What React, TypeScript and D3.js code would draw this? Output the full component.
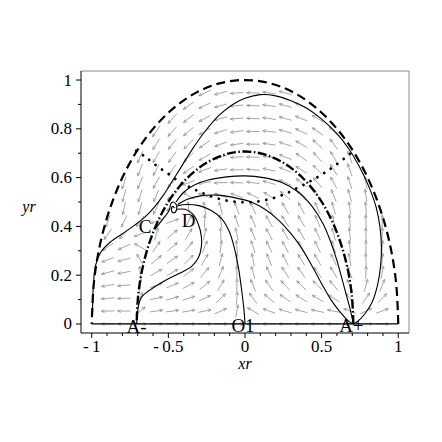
import React from 'react';
import * as d3 from 'd3';

// grid of the direction field (Maple style 20 x 20 over [-1,1] x [0,1])
const xGrid = [-1, -0.895, -0.789, -0.684, -0.579, -0.474, -0.368, -0.263, -0.158, -0.053, 0.053, 0.158, 0.263, 0.368, 0.474, 0.579, 0.684, 0.789, 0.895, 1];
const yGrid = [0, 0.053, 0.105, 0.158, 0.211, 0.263, 0.316, 0.368, 0.421, 0.474, 0.526, 0.579, 0.632, 0.684, 0.737, 0.789, 0.842, 0.895, 0.947];

const _ = null;
// arrow directions in degrees (0 = right, 90 = up), one row per yGrid value
const fieldAngles = [
    [_, 180, 180, 0, 0, 0, 0, 0, 0, 0, 180, 180, 180, 180, 180, 180, 180, 0, 0, _],
    [_, 182, 180, 40, 8, 8, 10, 12, 25, 80, 150, 160, 163, 165, 168, 168, 160, 25, 20, _],
    [_, 185, 182, 70, 12, 15, 18, 25, 45, 85, 125, 140, 145, 148, 150, 148, 130, 55, 45, _],
    [_, 190, 185, 85, 20, 22, 28, 40, 60, 88, 112, 125, 132, 135, 135, 130, 115, 75, 68, _],
    [_, 195, 190, 95, 30, 30, 38, 50, 68, 90, 105, 115, 122, 125, 125, 120, 110, 88, 80, _],
    [_, 200, 195, 120, 40, 35, 45, 60, 75, 90, 102, 112, 117, 120, 120, 115, 100, 92, 85, _],
    [_, 215, 205, 150, 55, 40, 52, 68, 82, 95, 108, 115, 118, 118, 115, 106, 96, 90, 85, _],
    [_, 235, 225, 200, 75, 40, 60, 78, 92, 102, 112, 118, 120, 120, 115, 105, 96, 92, 88, _],
    [_, 250, 245, 235, 200, 20, 65, 88, 100, 108, 115, 120, 122, 120, 113, 103, 95, 92, 90, _],
    [_, _, 258, 255, 245, 200, 95, 100, 105, 110, 115, 118, 120, 118, 113, 105, 98, 94, _, _],
    [_, _, 255, 252, 248, 220, 150, 160, 162, 160, 155, 148, 140, 132, 122, 112, 105, 98, _, _],
    [_, _, 252, 248, 242, 225, 200, 188, 182, 178, 172, 165, 155, 142, 130, 118, 108, 100, _, _],
    [_, _, _, 248, 242, 235, 215, 200, 188, 180, 175, 168, 158, 148, 135, 122, 110, _, _, _],
    [_, _, _, 245, 240, 235, 225, 210, 195, 183, 178, 170, 158, 145, 132, 120, 110, _, _, _],
    [_, _, _, _, 238, 232, 225, 215, 200, 188, 180, 172, 162, 150, 138, 125, _, _, _, _],
    [_, _, _, _, 235, 228, 220, 210, 198, 188, 180, 173, 165, 155, 145, 135, _, _, _, _],
    [_, _, _, _, _, 228, 218, 208, 195, 185, 178, 172, 165, 158, 150, _, _, _, _, _],
    [_, _, _, _, _, _, 215, 205, 195, 185, 178, 172, 165, 158, _, _, _, _, _, _],
    [_, _, _, _, _, _, _, 205, 195, 185, 178, 172, 165, _, _, _, _, _, _, _],
];

// boundary x^2+y^2=1 (dashed)
const outerCircle = [[1, 0], [0.985, 0.174], [0.94, 0.342], [0.866, 0.5], [0.766, 0.643], [0.643, 0.766], [0.5, 0.866], [0.342, 0.94], [0.174, 0.985], [0, 1], [-0.174, 0.985], [-0.342, 0.94], [-0.5, 0.866], [-0.643, 0.766], [-0.766, 0.643], [-0.866, 0.5], [-0.94, 0.342], [-0.985, 0.174], [-1, 0]];
// separatrix through A-, C, A+ (thick dash-dot)
const separatrix = [[0.707, 0], [0.696, 0.123], [0.664, 0.242], [0.612, 0.354], [0.542, 0.455], [0.455, 0.542], [0.354, 0.612], [0.242, 0.664], [0.123, 0.696], [0, 0.707], [-0.123, 0.696], [-0.242, 0.664], [-0.354, 0.612], [-0.455, 0.542], [-0.542, 0.455], [-0.612, 0.354], [-0.664, 0.242], [-0.696, 0.123], [-0.707, 0]];
// dotted locus
const dottedCurve = [[-0.71, 0.71], [-0.65, 0.685], [-0.58, 0.65], [-0.5, 0.615], [-0.42, 0.58], [-0.34, 0.555], [-0.25, 0.53], [-0.15, 0.51], [-0.05, 0.5], [0.05, 0.5], [0.15, 0.51], [0.25, 0.53], [0.35, 0.56], [0.44, 0.59], [0.52, 0.62], [0.6, 0.655], [0.7, 0.705]];

// solid trajectories
const outerTrajectory = [[-0.995, 0.04], [-0.99, 0.15], [-0.975, 0.24], [-0.94, 0.295], [-0.88, 0.335], [-0.8, 0.37], [-0.72, 0.405], [-0.65, 0.44], [-0.59, 0.48], [-0.53, 0.53], [-0.47, 0.59], [-0.41, 0.65], [-0.34, 0.72], [-0.26, 0.79], [-0.17, 0.855], [-0.08, 0.9], [0, 0.925], [0.1, 0.94], [0.2, 0.935], [0.3, 0.915], [0.4, 0.885], [0.5, 0.84], [0.6, 0.78], [0.68, 0.715], [0.75, 0.64], [0.81, 0.56], [0.855, 0.48], [0.88, 0.4], [0.89, 0.32], [0.885, 0.24], [0.865, 0.16], [0.83, 0.09], [0.78, 0.04], [0.73, 0.008], [0.707, 0]];
const innerArch = [[-0.45, 0.5], [-0.4, 0.54], [-0.33, 0.57], [-0.24, 0.59], [-0.12, 0.603], [0, 0.607], [0.12, 0.6], [0.24, 0.58], [0.35, 0.54], [0.44, 0.48], [0.51, 0.41], [0.56, 0.335], [0.6, 0.26], [0.635, 0.18], [0.665, 0.11], [0.69, 0.05], [0.707, 0]];
const sCurve = [[-0.44, 0.49], [-0.38, 0.51], [-0.29, 0.525], [-0.18, 0.528], [-0.07, 0.518], [0.04, 0.5], [0.13, 0.47], [0.22, 0.425], [0.3, 0.37], [0.37, 0.31], [0.44, 0.235], [0.5, 0.165], [0.56, 0.1], [0.62, 0.05], [0.67, 0.015], [0.707, 0]];
const toO1 = [[-0.44, 0.485], [-0.38, 0.49], [-0.3, 0.485], [-0.22, 0.465], [-0.15, 0.43], [-0.1, 0.375], [-0.065, 0.3], [-0.04, 0.22], [-0.02, 0.13], [-0.007, 0.06], [0, 0]];
const toAminus = [[-0.445, 0.47], [-0.39, 0.47], [-0.34, 0.45], [-0.305, 0.41], [-0.285, 0.36], [-0.285, 0.315], [-0.305, 0.27], [-0.35, 0.235], [-0.42, 0.21], [-0.5, 0.185], [-0.57, 0.16], [-0.63, 0.135], [-0.675, 0.11], [-0.695, 0.075], [-0.703, 0.035], [-0.707, 0]];
const cToD = [[-0.585, 0.39], [-0.56, 0.41], [-0.53, 0.435], [-0.505, 0.455], [-0.49, 0.475], [-0.485, 0.492], [-0.47, 0.5], [-0.452, 0.493], [-0.445, 0.475], [-0.455, 0.458], [-0.472, 0.457], [-0.48, 0.47], [-0.472, 0.482], [-0.462, 0.477]];
const axisLine = [[-1, 0], [1, 0]];

const pointNames = ['A-', 'O1', 'A+', 'C', 'D'];
const pointX = [-0.707, 0, 0.707, -0.6, -0.466];
const pointY = [0, 0, 0, 0.4, 0.475];

const xMajor = [-1, -0.5, 0, 0.5, 1];
const xMajorLabels = ['-\u20091', '-\u20090.5', '0', '0.5', '1'];
const xMinor = [-0.9, -0.8, -0.7, -0.6, -0.4, -0.3, -0.2, -0.1, 0.1, 0.2, 0.3, 0.4, 0.6, 0.7, 0.8, 0.9];
const yMajor = [0, 0.2, 0.4, 0.6, 0.8, 1];
const yMajorLabels = ['0', '0.2', '0.4', '0.6', '0.8', '1'];
const yMinor = [0.1, 0.3, 0.5, 0.7, 0.9];

const App = () => {
    const left = 81, right = 409, top = 71, bottom = 333;
    const x = d3.scaleLinear().domain([-1.07, 1.07]).range([left, right]);
    const y = d3.scaleLinear().domain([-0.037, 1.037]).range([bottom, top]);

    const line = d3.line<number[]>()
        .x(d => x(d[0]))
        .y(d => y(d[1]))
        .curve(d3.curveCatmullRom.alpha(0.5));

    const arrowLen = 13;
    const headLen = 3.5;
    const arrows: string[] = [];
    fieldAngles.forEach((row, j) => {
        row.forEach((a, i) => {
            if (a === null) return;
            const rad = a * Math.PI / 180;
            const cx = x(xGrid[i]);
            const cy = y(yGrid[j]);
            const dx = Math.cos(rad) * arrowLen / 2;
            const dy = -Math.sin(rad) * arrowLen / 2;
            const tx = cx + dx, ty = cy + dy;
            const b1 = rad + Math.PI - 0.42;
            const b2 = rad + Math.PI + 0.42;
            arrows.push(
                `M${cx - dx},${cy - dy}L${tx},${ty}` +
                `M${tx + Math.cos(b1) * headLen},${ty - Math.sin(b1) * headLen}L${tx},${ty}` +
                `L${tx + Math.cos(b2) * headLen},${ty - Math.sin(b2) * headLen}`
            );
        });
    });

    const serif = '"Liberation Serif", "Times New Roman", serif';
    const labelOffset: Record<string, [number, number]> = {
        'A-': [0, 9], 'O1': [-2, 8], 'A+': [-2, 8], 'C': [-8, 6.5], 'D': [15, 19]
    };

    return (
        <svg width={442} height={442} style={{position: 'absolute', left: 0, top: 0, background: '#fff'}}>
            <g className='field' stroke='#9c9c9c' strokeWidth={0.9} fill='none'>
                {arrows.map((d, k) => <path key={k} d={d}/>)}
            </g>

            <path d={line(axisLine) || ''} stroke='#000' strokeWidth={1.2} fill='none'/>
            <path d={line(outerCircle) || ''} stroke='#000' strokeWidth={2.2} strokeDasharray='9,5' fill='none'/>
            <path d={line(separatrix) || ''} stroke='#000' strokeWidth={2.4} strokeDasharray='9,2.5,1.5,2.5' fill='none'/>
            <path d={line(dottedCurve) || ''} stroke='#000' strokeWidth={2.8} strokeDasharray='0.01,8' strokeLinecap='round' fill='none'/>

            <g stroke='#000' strokeWidth={1.1} fill='none'>
                {[outerTrajectory, innerArch, sCurve, toO1, toAminus, cToD].map((c, k) =>
                    <path key={k} d={line(c) || ''}/>
                )}
            </g>

            {pointNames.map((name, k) => (
                <text key={name} x={x(pointX[k]) + labelOffset[name][0]} y={y(pointY[k]) + labelOffset[name][1]}
                      textAnchor='middle' fontFamily={serif} fontSize={19} fill='#000'>{name}</text>
            ))}

            {/* frame */}
            <line x1={left} x2={right} y1={top} y2={top} stroke='#8a8a8a' strokeWidth={1}/>
            <line x1={right} x2={right} y1={top} y2={bottom} stroke='#8a8a8a' strokeWidth={1}/>
            <line x1={left} x2={left} y1={top} y2={bottom} stroke='#000' strokeWidth={1}/>
            <line x1={left} x2={right} y1={bottom} y2={bottom} stroke='#000' strokeWidth={1}/>

            <g className='x-axis' fontFamily={serif} fontSize={17} fill='#000'>
                {xMajor.map(v => <line key={v} x1={x(v)} x2={x(v)} y1={bottom} y2={bottom + 5} stroke='#000'/>)}
                {xMinor.map(v => <line key={v} x1={x(v)} x2={x(v)} y1={bottom} y2={bottom + 3} stroke='#000'/>)}
                {xMajor.map((v, k) => <text key={v} x={x(v)} y={352} textAnchor='middle'>{xMajorLabels[k]}</text>)}
                <text x={x(0)} y={369} textAnchor='middle' fontStyle='italic' fontSize={16}>xr</text>
            </g>
            <g className='y-axis' fontFamily={serif} fontSize={17} fill='#000'>
                {yMajor.map(v => <line key={v} x1={left - 5} x2={left} y1={y(v)} y2={y(v)} stroke='#000'/>)}
                {yMinor.map(v => <line key={v} x1={left - 3} x2={left} y1={y(v)} y2={y(v)} stroke='#000'/>)}
                {yMajor.map((v, k) => <text key={v} x={72} y={y(v) + 5.5} textAnchor='end'>{yMajorLabels[k]}</text>)}
                <text x={29} y={212} textAnchor='middle' fontStyle='italic' fontSize={16}>yr</text>
            </g>
        </svg>
    );
};

export default App;
